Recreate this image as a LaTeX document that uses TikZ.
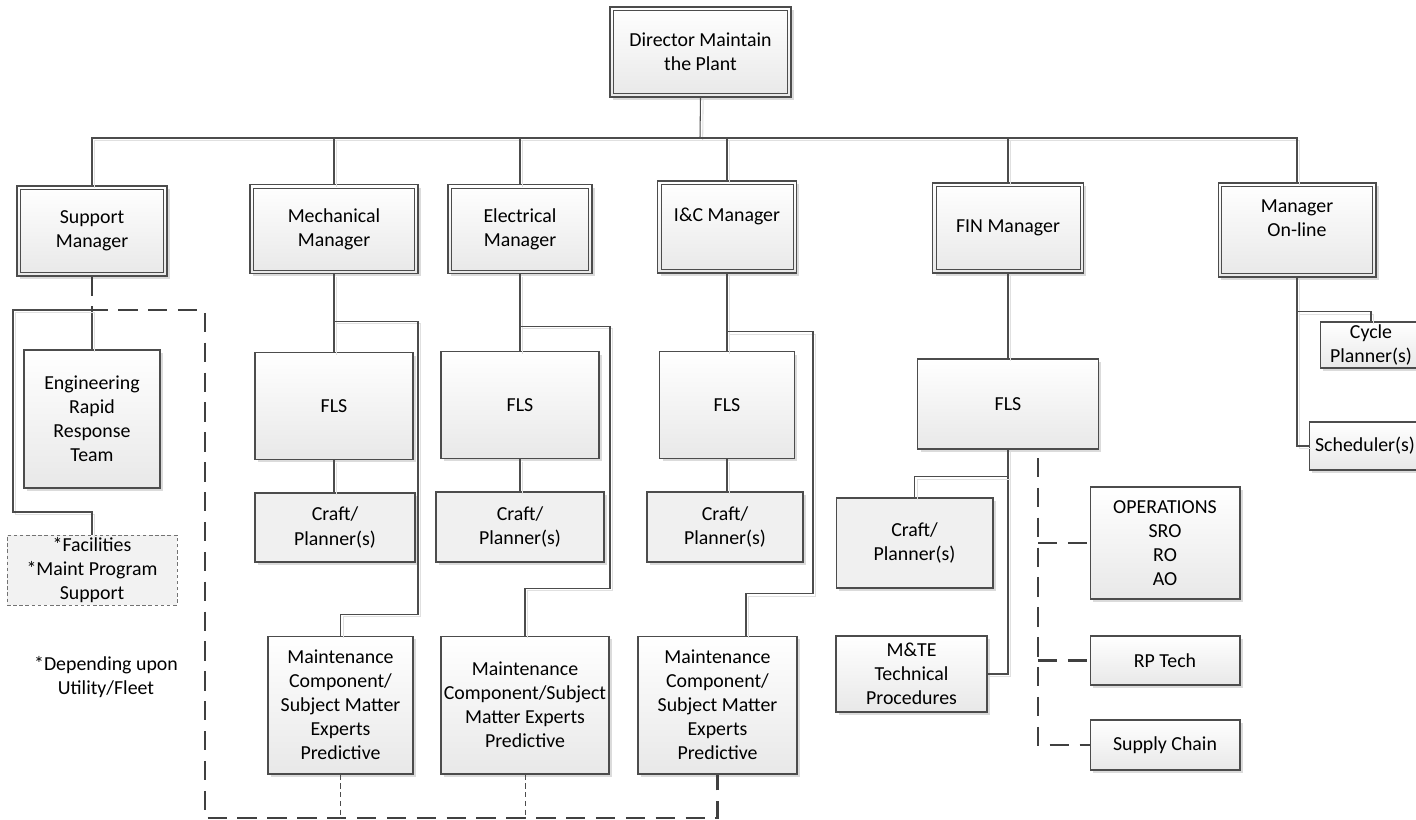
\documentclass[tikz,border=0pt]{standalone}
\usepackage{fontspec}
\setmainfont{Carlito}
\usetikzlibrary{shadows}

\tikzset{
  boxshadow/.style={drop shadow={shadow xshift=1.7pt, shadow yshift=-1.7pt, fill=black!14, opacity=1}},
  mgr/.style={draw=black!70, line width=0.6pt, top color=white, bottom color=black!9,
    align=center, inner sep=1pt, boxshadow},
  unitbox/.style={draw=black!70, line width=0.6pt, top color=white, bottom color=black!9,
    align=center, inner sep=1pt, boxshadow},
  craftbox/.style={draw=black!70, line width=0.6pt, fill=black!6, align=center, inner sep=1pt, boxshadow},
  extrabox/.style={draw=black!55, line width=0.5pt, dash pattern=on 2pt off 1.5pt, fill=black!5,
    align=center, inner sep=0pt},
  conn/.style={draw=black!70, line width=0.6pt,
    preaction={draw=black!12, line width=0.6pt, transform canvas={shift={(1.5pt,-1.5pt)}}}},
  link/.style={draw=black!75, line width=1.5pt, dash pattern=on 11pt off 6pt},
  thinlink/.style={draw=black!70, line width=0.5pt, dash pattern=on 3pt off 2pt}
}

\begin{document}
\begin{tikzpicture}[x=0.02cm, y=-0.02cm, font=\fontsize{11.3}{13.7}\selectfont]
\useasboundingbox (0,0) rectangle (1416,819);

\node[mgr, minimum width=3.62cm, minimum height=1.80cm] (dir) at (700.5,52) {Director Maintain\\the Plant};
\node[mgr, minimum width=3.00cm, minimum height=1.80cm] (sup) at (92,231) {Support\\Manager};
\node[mgr, minimum width=3.36cm, minimum height=1.78cm] (mech) at (334,229) {Mechanical\\Manager};
\node[mgr, minimum width=2.88cm, minimum height=1.78cm] (elec) at (520,229) {Electrical\\Manager};
\node[mgr, minimum width=2.78cm, minimum height=1.84cm] (ic) at (727,227) {I\&C Manager\\\mbox{}};
\node[mgr, minimum width=3.02cm, minimum height=1.80cm] (fin) at (1008,228) {FIN Manager};
\node[mgr, minimum width=3.16cm, minimum height=1.88cm] (onl) at (1297,230) {Manager\\On-line\\\mbox{}};
\foreach \n in {dir,sup,mech,elec,ic,fin,onl}
  \draw[draw=black!70, line width=0.5pt] ([shift={(2.3pt,-2.3pt)}]\n.north west)
    rectangle ([shift={(-2.3pt,2.3pt)}]\n.south east);

\node[unitbox, minimum width=2.72cm, minimum height=2.76cm] (eng) at (92,419) {Engineering\\Rapid\\Response\\Team};
\node[extrabox, minimum width=3.40cm, minimum height=1.40cm] (fac) at (92,570) {*Facilities\\*Maint Program\\Support};
\node[align=center] (dep) at (106,677) {*Depending upon\\Utility/Fleet};

\node[unitbox, minimum width=3.16cm, minimum height=2.14cm] (mfls) at (334,406) {FLS};
\node[unitbox, minimum width=3.16cm, minimum height=2.14cm] (efls) at (520,405) {FLS};
\node[unitbox, minimum width=2.70cm, minimum height=2.14cm] (ifls) at (727,405) {FLS};

\node[craftbox, minimum width=3.20cm, minimum height=1.38cm] (mcraft) at (335,527.5) {Craft/\\Planner(s)};
\node[craftbox, minimum width=3.36cm, minimum height=1.40cm] (ecraft) at (520,527) {Craft/\\Planner(s)};
\node[craftbox, minimum width=3.12cm, minimum height=1.40cm] (icraft) at (725,527) {Craft/\\Planner(s)};

\node[unitbox, minimum width=2.90cm, minimum height=2.76cm] (mmaint) at (340.5,705) {Maintenance\\Component/\\Subject Matter\\Experts\\Predictive};
\node[unitbox, minimum width=3.36cm, minimum height=2.76cm] (emaint) at (525,705) {Maintenance\\Component/Subject\\Matter Experts\\Predictive};
\node[unitbox, minimum width=3.18cm, minimum height=2.76cm] (imaint) at (717.5,705) {Maintenance\\Component/\\Subject Matter\\Experts\\Predictive};

\node[unitbox, minimum width=3.62cm, minimum height=1.80cm] (ffls) at (1008,404) {FLS};
\node[craftbox, minimum width=3.14cm, minimum height=1.80cm] (fcraft) at (914.5,543) {Craft/\\Planner(s)};
\node[unitbox, minimum width=3.02cm, minimum height=1.52cm] (mte) at (911.5,674) {M\&TE\\Technical\\Procedures};
\node[unitbox, minimum width=3.00cm, minimum height=2.24cm] (ops) at (1165,543) {OPERATIONS\\SRO\\RO\\AO};
\node[unitbox, minimum width=3.00cm, minimum height=0.98cm] (rp) at (1165,660.5) {RP Tech};
\node[unitbox, minimum width=3.00cm, minimum height=1.00cm] (sc) at (1165,745) {Supply Chain};

\node[unitbox, minimum width=2.04cm, minimum height=0.92cm] (cyc) at (1371,345) {Cycle\\Planner(s)};
\node[unitbox, minimum width=2.24cm, minimum height=0.96cm] (sched) at (1365,446) {Scheduler(s)};

\coordinate (bus) at (700,138);
\coordinate (sj) at (92,310);
\coordinate (fd) at (1038,458);

\draw[conn] (dir.south) -- (bus);
\draw[conn] (sup.north) |- (bus) -| (onl.north);
\foreach \n in {mech,elec,ic,fin}
  \draw[conn] (\n.north) -- (\n.north |- bus);

\draw[conn] (sj) -- (eng.north);
\draw[conn] (sj) -- ++(-79,0) -- ++(0,202) -| (fac.north);
\draw[link] (sup.south) -- (sj) -- ++(113,0) -- ++(0,508) -| (imaint.south);

\draw[conn] (mech.south) -- (mech.south |- mfls.north);
\draw[conn] (mfls.south) -- (mfls.south |- mcraft.north);
\draw[conn] (mech.south) ++(0,47) -| ++(84,293) -| (mmaint.north);
\draw[conn] (elec.south) -- (elec.south |- efls.north);
\draw[conn] (efls.south) -- (efls.south |- ecraft.north);
\draw[conn] (elec.south) ++(0,52) -| ++(90,262) -| (emaint.north);
\draw[conn] (ic.south) -- (ic.south |- ifls.north);
\draw[conn] (ifls.south) -- (ifls.south |- icraft.north);
\draw[conn] (ic.south) ++(0,58) -| ++(86,262) -| ([xshift=0.57cm]imaint.north);
\draw[thinlink] (mmaint.south) -- ++(0,44);
\draw[thinlink] (emaint.south) -- ++(0,44);

\draw[conn] (fin.south) -- (ffls.north);
\draw[conn] (ffls.south) |- (mte.east);
\draw[conn] (ffls.south) ++(0,27) -| (fcraft.north);
\draw[link] (fd) |- (sc.west);
\draw[link] (fd |- ops.west) -- (ops.west);
\draw[link] (fd |- rp.west) -- (rp.west);

\draw[conn] (onl.south) |- (sched.west);
\draw[conn] (onl.south) ++(0,34) -| (cyc.north);
\end{tikzpicture}
\end{document}
